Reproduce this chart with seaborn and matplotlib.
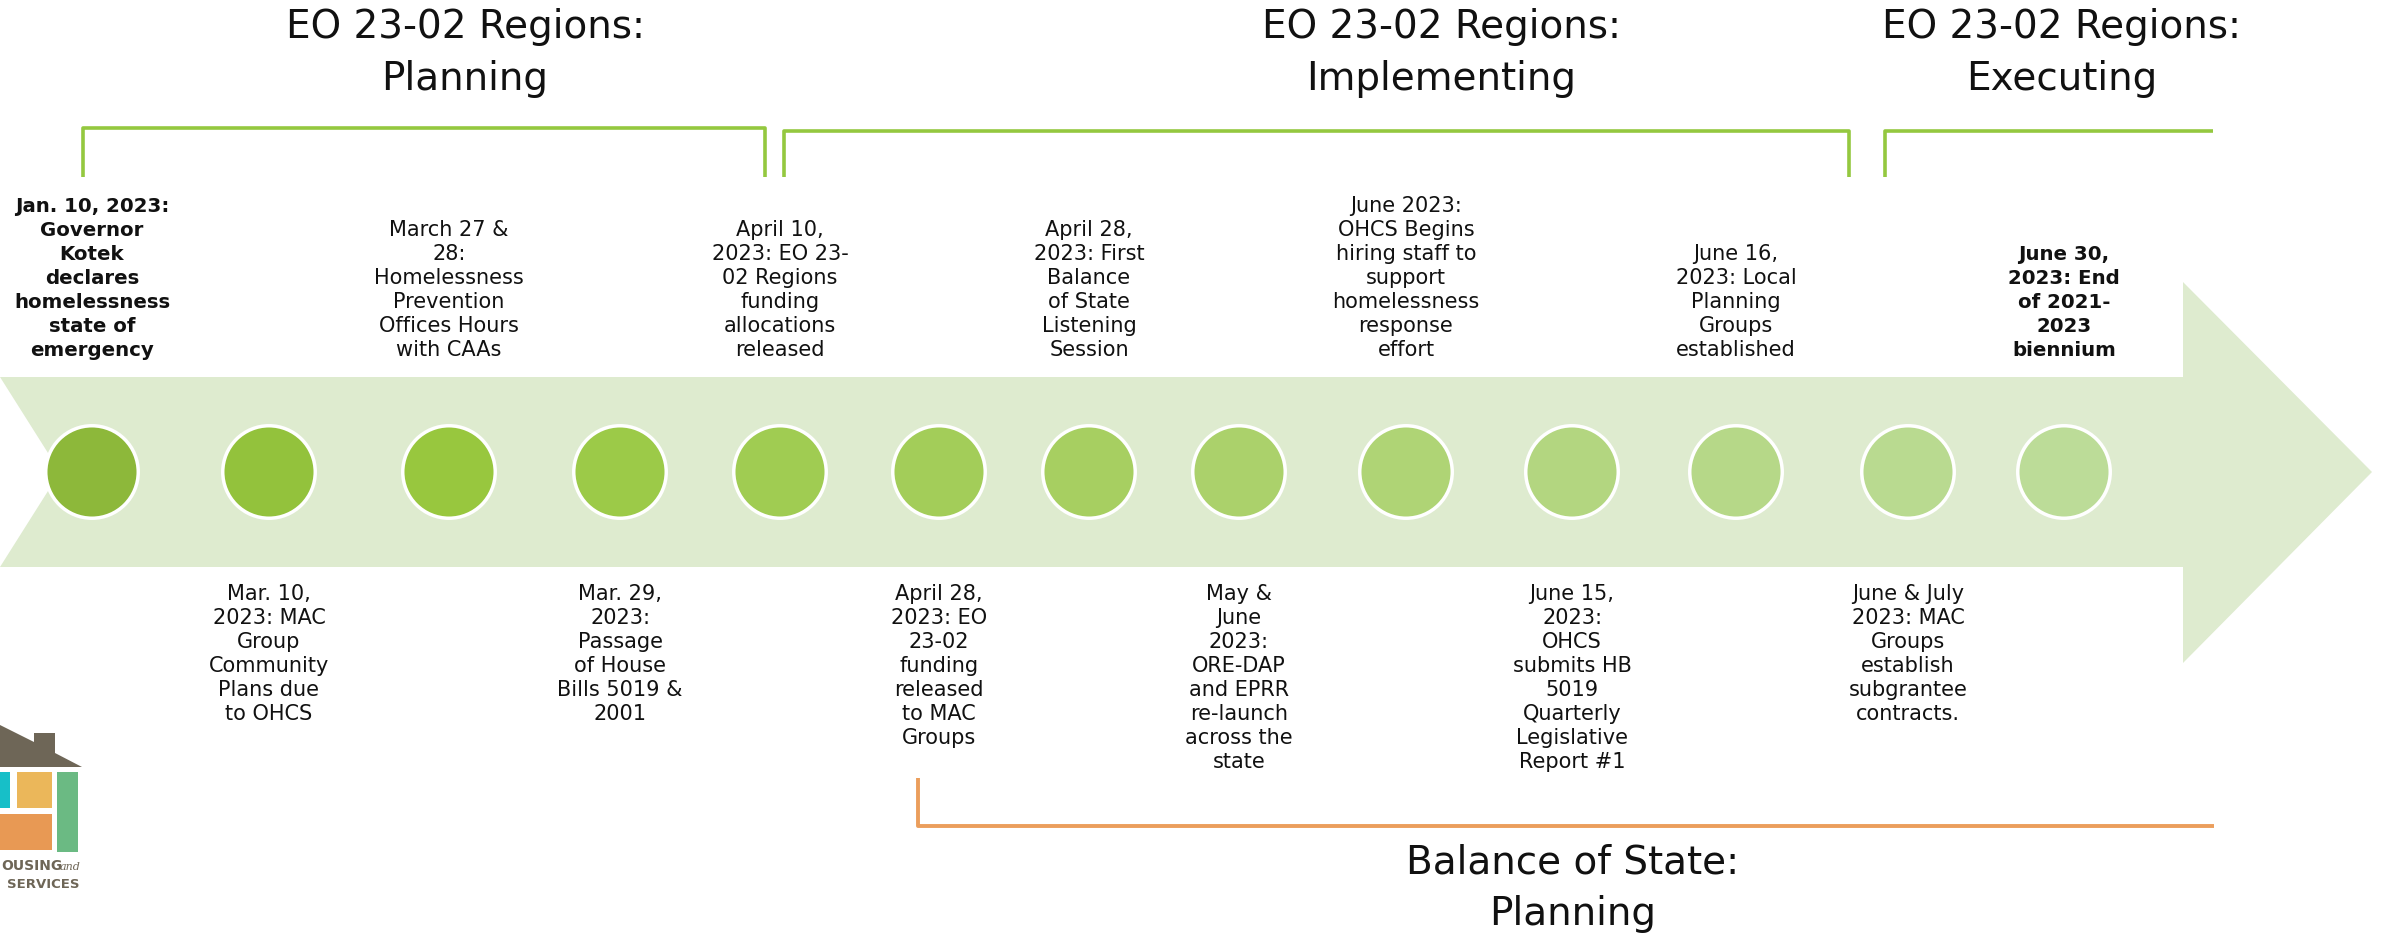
import matplotlib
matplotlib.use("Agg")
import matplotlib.pyplot as plt
import seaborn as sns
import pandas as pd
from matplotlib.patches import Polygon, Rectangle

sns.set_theme(style="white")
plt.rcParams['font.family'] = ['DejaVu Sans']

# ---------------- data ----------------
event_labels = [
    "Jan. 10, 2023:\nGovernor\nKotek\ndeclares\nhomelessness\nstate of\nemergency",
    "Mar. 10,\n2023: MAC\nGroup\nCommunity\nPlans due\nto OHCS",
    "March 27 &\n28:\nHomelessness\nPrevention\nOffices Hours\nwith CAAs",
    "Mar. 29,\n2023:\nPassage\nof House\nBills 5019 &\n2001",
    "April 10,\n2023: EO 23-\n02 Regions\nfunding\nallocations\nreleased",
    "April 28,\n2023: EO\n23-02\nfunding\nreleased\nto MAC\nGroups",
    "April 28,\n2023: First\nBalance\nof State\nListening\nSession",
    "May &\nJune\n2023:\nORE-DAP\nand EPRR\nre-launch\nacross the\nstate",
    "June 2023:\nOHCS Begins\nhiring staff to\nsupport\nhomelessness\nresponse\neffort",
    "June 15,\n2023:\nOHCS\nsubmits HB\n5019\nQuarterly\nLegislative\nReport #1",
    "June 16,\n2023: Local\nPlanning\nGroups\nestablished",
    "June & July\n2023: MAC\nGroups\nestablish\nsubgrantee\ncontracts.",
    "June 30,\n2023: End\nof 2021-\n2023\nbiennium",
]
event_pos = [92, 269, 449, 620, 780, 939, 1089, 1239, 1406, 1572, 1736, 1908, 2064]
event_side = ["above", "below"] * 6 + ["above"]
event_bold = [True] + [False] * 11 + [True]
circle_colors = ["#8db83a", "#93c23c", "#98c73e", "#9cca48", "#a0cc52", "#a3cd59",
                 "#a7cf61", "#abd16b", "#afd475", "#b3d680", "#b6d888", "#b9da90", "#bcdc98"]

phase_titles = ["EO 23-02 Regions:\nPlanning", "EO 23-02 Regions:\nImplementing",
                "EO 23-02 Regions:\nExecuting"]
phase_centers = [465, 1441, 2062]
phase_spans = [(83, 765, True), (784, 1849, True), (1885, 2213, False)]
bos_title = "Balance of State:\nPlanning"
bos_center = 1573
bos_span = (918, 2214)

# ---------------- figure ----------------
W, H = 2381, 935
fig = plt.figure(figsize=(W / 100, H / 100), dpi=100)
ax = fig.add_axes([0, 0, 1, 1])

# arrow band
yc = 472
band = Polygon([(0, 377), (2183, 377), (2183, 282), (2372, yc), (2183, 663),
                (2183, 567), (0, 567), (60, yc)], closed=True,
               facecolor="#deebcf", edgecolor="none", zorder=1)
ax.add_patch(band)

# circles
df = pd.DataFrame({"x": event_pos, "y": [yc] * len(event_pos),
                   "idx": [str(i) for i in range(len(event_pos))]})
sns.scatterplot(data=df, x="x", y="y", hue="idx", palette=circle_colors,
                s=4435, edgecolor="white", linewidth=2.5, legend=False,
                ax=ax, zorder=3)
ax.set_xlim(0, W)
ax.set_ylim(H, 0)
ax.axis("off")

# event labels
for lab, x, side, b in zip(event_labels, event_pos, event_side, event_bold):
    fs = 14.2 if b else 15
    if side == "above":
        ax.text(x, 360, lab, ha="center", va="bottom", fontsize=fs,
                fontweight="bold" if b else "normal",
                linespacing=1.25 if not b else 1.33,
                color="#111111", zorder=4)
    else:
        ax.text(x, 584, lab, ha="center", va="top", fontsize=fs,
                fontweight="bold" if b else "normal", linespacing=1.25,
                color="#111111", zorder=4)

# phase headers and brackets
green = "#94c83f"
for t, cx in zip(phase_titles, phase_centers):
    ax.text(cx, 90, t, ha="center", va="baseline", fontsize=28,
            linespacing=1.45, color="#111111")
for (x0, x1, closed), ytop in zip(phase_spans, [128, 131, 131]):
    xs = [x0, x0, x1]
    ys = [177, ytop, ytop]
    if closed:
        xs.append(x1)
        ys.append(177)
    ax.plot(xs, ys, color=green, lw=2.6, solid_joinstyle="round",
            solid_capstyle="butt", zorder=2)

# balance of state bracket
ax.plot([bos_span[0], bos_span[0], bos_span[1]], [778, 826, 826],
        color="#eb9e5c", lw=2.8, solid_joinstyle="round", solid_capstyle="butt")
ax.text(bos_center, 925, bos_title, ha="center", va="baseline", fontsize=28,
        linespacing=1.45, color="#111111")

# partial logo (bottom-left)
brown = "#6e6657"
ax.add_patch(Polygon([(0, 725), (34, 742), (34, 733), (55, 733), (55, 753),
                      (82, 767), (0, 767)], closed=True, facecolor=brown,
                     edgecolor="none"))
ax.add_patch(Rectangle((0, 772), 10, 36, facecolor="#17bfc8", edgecolor="none"))
ax.add_patch(Rectangle((17, 772), 35, 36, facecolor="#ebb75a", edgecolor="none"))
ax.add_patch(Rectangle((0, 814), 52, 36, facecolor="#e89954", edgecolor="none"))
ax.add_patch(Rectangle((57, 772), 21, 80, facecolor="#6bba83", edgecolor="none"))
ax.text(62, 870, "OUSING", ha="right", va="baseline", fontsize=10,
        color=brown, fontweight="bold")
ax.text(80, 870, "and", ha="right", va="baseline", fontsize=8,
        color=brown, fontstyle="italic", family="DejaVu Serif")
ax.text(80, 888, "SERVICES", ha="right", va="baseline", fontsize=9.5,
        color=brown, fontweight="bold")

fig.savefig("out.png", dpi=100)
